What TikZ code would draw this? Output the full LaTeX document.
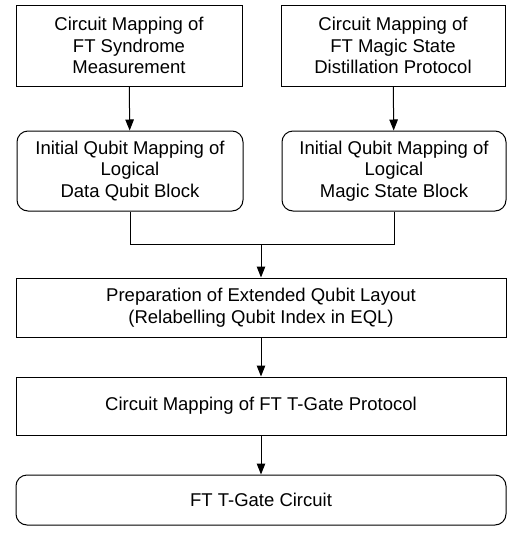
\documentclass[tikz,border=0pt]{standalone}
\usepackage{fontspec}
\setmainfont{Liberation Sans}
\usetikzlibrary{arrows.meta}
\begin{document}
\begin{tikzpicture}[x=1pt,y=-1pt,
  box/.style={draw, line width=1pt, inner sep=0pt, align=center, font=\fontsize{18.5}{21.5}\selectfont},
  rbox/.style={box, rounded corners=11pt},
  arr/.style={line width=1pt, -{Triangle[length=11pt,width=8.5pt]}},
  ln/.style={line width=1pt}]
\useasboundingbox (0,0) rectangle (507,536);
\node[box, minimum width=226pt, minimum height=81pt] (b1) at (129,45.5) {Circuit Mapping of\\FT Syndrome\\Measurement};
\node[box, minimum width=224pt, minimum height=81pt] (b2) at (393,45.5) {Circuit Mapping of\\FT Magic State\\Distillation Protocol};
\node[rbox, minimum width=226pt, minimum height=80pt] (b3) at (130,171) {Initial Qubit Mapping of\\Logical\\Data Qubit Block};
\node[rbox, minimum width=224pt, minimum height=80pt] (b4) at (394,171) {Initial Qubit Mapping of\\Logical\\Magic State Block};
\node[box, minimum width=490pt, minimum height=59pt] (b5) at (261,307.5) {Preparation of Extended Qubit Layout\\(Relabelling Qubit Index in EQL)};
\node[box, minimum width=490pt, minimum height=58pt] (b6) at (261,406) {Circuit Mapping of FT T-Gate Protocol};
\node[rbox, minimum width=490pt, minimum height=50pt] (b7) at (261,500) {FT T-Gate Circuit};
\coordinate (m) at (261,244);
\draw[arr] (b1) -- (b3);
\draw[arr] (b2) -- (b4);
\draw[ln] (b3.south) |- (m);
\draw[ln] (b4.south) |- (m);
\draw[arr] (m) -- (b5.north);
\draw[arr] (b5) -- (b6);
\draw[arr] (b6) -- (b7);
\end{tikzpicture}
\end{document}
